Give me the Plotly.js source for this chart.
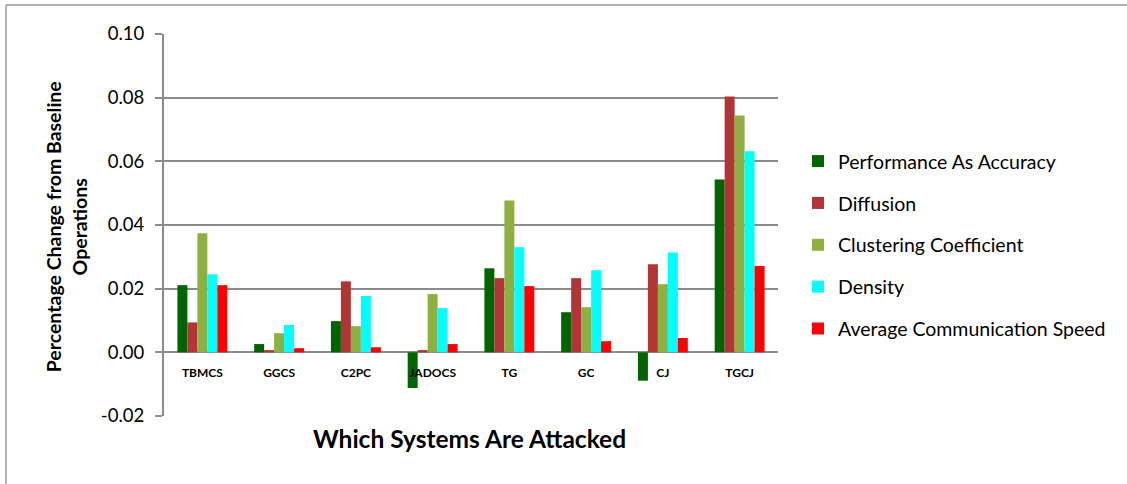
<!DOCTYPE html>
<html>
<head>
<meta charset="utf-8">
<script src="https://cdn.plot.ly/plotly-3.0.1.min.js"></script>
<style>html,body{margin:0;padding:0;background:#fff;}#chart{width:1127px;height:484px;}</style>
</head>
<body>
<div id="chart"></div>
<script>
var categories = ["TBMCS", "GGCS", "C2PC", "JADOCS", "TG", "GC", "CJ", "TGCJ"];
var performanceAccuracy = [0.0211, 0.0026, 0.0098, -0.0112, 0.0264, 0.0126, -0.0089, 0.0543];
var diffusion = [0.0094, 0.0007, 0.0223, 0.0007, 0.0233, 0.0233, 0.0277, 0.0804];
var clusteringCoefficient = [0.0374, 0.0060, 0.0082, 0.0183, 0.0477, 0.0142, 0.0214, 0.0744];
var density = [0.0245, 0.0086, 0.0177, 0.0139, 0.0330, 0.0258, 0.0314, 0.0632];
var avgCommSpeed = [0.0211, 0.0013, 0.0016, 0.0026, 0.0208, 0.0035, 0.0045, 0.0271];
var seriesNames = ["Performance As Accuracy", "Diffusion", "Clustering Coefficient", "Density", "Average Communication Speed"];
var seriesValues = [performanceAccuracy, diffusion, clusteringCoefficient, density, avgCommSpeed];
var seriesColors = ["#006400", "#B23434", "#8DB040", "#00FFFF", "#FF0000"];
var yTickValues = [-0.02, 0, 0.02, 0.04, 0.06, 0.08, 0.10];
var yTickLabels = ["-0.02", "0.00", "0.02", "0.04", "0.06", "0.08", "0.10"];

var FONT = "Lato, 'Open Sans', sans-serif";
var GRID = "#8c8c8c";

var traces = seriesNames.map(function (name, i) {
  return {
    type: "bar",
    name: name,
    x: categories,
    y: seriesValues[i],
    legendgroup: "g" + i,
    marker: { color: seriesColors[i], line: { width: 0 } },
    hoverinfo: "x+y+name"
  };
});

var layout = {
  width: 1127,
  height: 484,
  margin: { l: 164, r: 349, t: 34, b: 68 },
  paper_bgcolor: "#fff",
  plot_bgcolor: "#fff",
  barmode: "group",
  bargap: 0.35,
  bargroupgap: 0,
  font: { family: FONT, color: "#000" },
  showlegend: true,
  legend: {
    x: 1.0326, xanchor: "left",
    y: 0.7175, yanchor: "top",
    traceorder: "grouped",
    tracegroupgap: 13.5,
    font: { family: FONT, size: 19.5, color: "#000" },
    bgcolor: "rgba(0,0,0,0)"
  },
  xaxis: {
    type: "category",
    anchor: "free",
    position: 1 / 6,
    showgrid: false,
    showline: false,
    zeroline: false,
    ticks: "",
    ticklabelstandoff: 12,
    tickfont: { family: FONT, size: 12, color: "#000", weight: "bold" },
    fixedrange: true
  },
  yaxis: {
    range: [-0.02, 0.10],
    tickvals: yTickValues,
    ticktext: yTickLabels,
    showgrid: true,
    gridcolor: GRID,
    gridwidth: 2,
    zeroline: true,
    zerolinecolor: GRID,
    zerolinewidth: 2,
    showline: true,
    linecolor: GRID,
    linewidth: 2,
    ticks: "outside",
    ticklen: 7,
    tickwidth: 2,
    tickcolor: GRID,
    ticklabelstandoff: 7,
    tickfont: { family: FONT, size: 18.5, color: "#000" },
    fixedrange: true
  },
  annotations: [
    {
      xref: "paper", yref: "paper",
      x: 0.498, y: -0.0576,
      xanchor: "center", yanchor: "middle",
      text: "<b>Which Systems Are Attacked</b>",
      showarrow: false,
      font: { family: FONT, size: 24.5, color: "#000" }
    },
    {
      xref: "paper", yref: "paper",
      x: -0.159, y: 0.495,
      xanchor: "center", yanchor: "middle",
      textangle: -90,
      text: "<b>Percentage Change from Baseline<br>Operations</b>",
      showarrow: false,
      font: { family: FONT, size: 19.5, color: "#000" }
    }
  ],
  shapes: [
    { type: "line", xref: "paper", yref: "paper", x0: -0.2573, x1: 1.57, y0: 1.0759, y1: 1.0759, line: { color: "#999", width: 1.5 } },
    { type: "line", xref: "paper", yref: "paper", x0: -0.2573, x1: -0.2573, y0: 1.0759, y1: -0.2, line: { color: "#999", width: 1.5 } }
  ]
};

Plotly.newPlot("chart", traces, layout, { displayModeBar: false, staticPlot: true });
</script>
</body>
</html>
